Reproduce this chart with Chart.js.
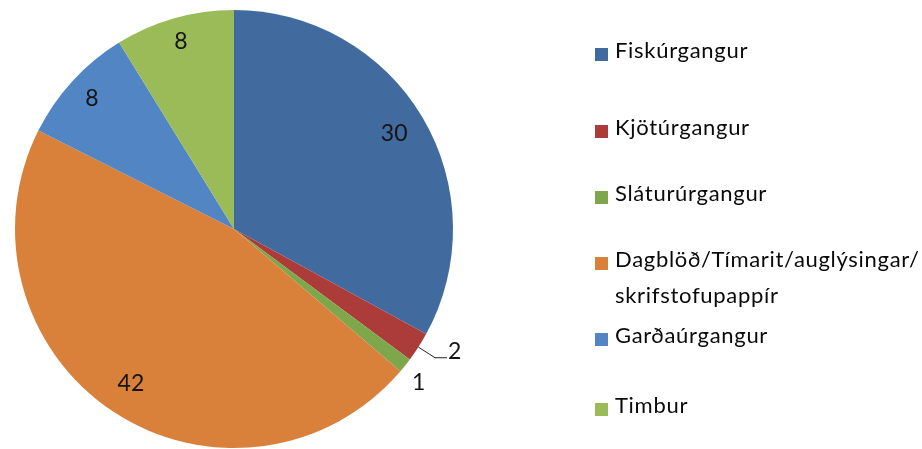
<!DOCTYPE html>
<html>
<head>
<meta charset="utf-8">
<script src="https://cdn.jsdelivr.net/npm/chart.js@4"></script>
<style>
  html, body { margin: 0; padding: 0; background: #fff; }
  #wrap { width: 922px; height: 449px; position: relative; }
</style>
</head>
<body>
<div id="wrap"><canvas id="pie"></canvas></div>
<script>
// --- data ---
const categories = ['Fiskúrgangur', 'Kjötúrgangur', 'Sláturúrgangur',
  'Dagblöð/Tímarit/auglýsingar/ skrifstofupappír', 'Garðaúrgangur', 'Timbur'];
const legendLines = [['Fiskúrgangur'], ['Kjötúrgangur'], ['Sláturúrgangur'],
  ['Dagblöð/Tímarit/auglýsingar/', 'skrifstofupappír'], ['Garðaúrgangur'], ['Timbur']];
const values = [30, 2, 1, 42, 8, 8];
const colors = ['#416b9f', '#ab3c3a', '#7ea74b', '#d9813b', '#5185c4', '#9bbb59'];

const FONT = 'Lato, "Open Sans", sans-serif';

// how each value label is placed: inside at a fraction of the radius,
// or outside ('out' = next to the edge, 'leader' = with a leader line)
const labelMode = ['in', 'leader', 'out', 'in', 'in', 'in'];
const labelRadius = [0.85, 1.09, 1.04, 0.85, 0.88, 0.89];

function polar(arc, ang, f) {
  return [arc.x + Math.cos(ang) * arc.outerRadius * f,
          arc.y + Math.sin(ang) * arc.outerRadius * f];
}

// value labels drawn on top of the slices
const valueLabels = {
  id: 'valueLabels',
  afterDatasetsDraw(chart) {
    const ctx = chart.ctx;
    const meta = chart.getDatasetMeta(0);
    ctx.save();
    ctx.font = '23px ' + FONT;
    ctx.fillStyle = '#141414';
    meta.data.forEach((arc, i) => {
      const mid = (arc.startAngle + arc.endAngle) / 2;
      const [x, y] = polar(arc, mid, labelRadius[i]);
      const txt = String(values[i]);
      if (labelMode[i] === 'leader') {
        const [ex, ey] = polar(arc, mid, 1.0);
        ctx.strokeStyle = '#222';
        ctx.lineWidth = 1;
        ctx.beginPath();
        ctx.moveTo(ex, ey);
        ctx.lineTo(x, y);
        ctx.lineTo(x + 12, y);
        ctx.stroke();
        ctx.textAlign = 'left';
        ctx.textBaseline = 'alphabetic';
        ctx.fillText(txt, x + 13, y + 1);
      } else if (labelMode[i] === 'out') {
        ctx.textAlign = 'left';
        ctx.textBaseline = 'alphabetic';
        ctx.fillText(txt, x, y + 19);
      } else {
        ctx.textAlign = 'center';
        ctx.textBaseline = 'middle';
        ctx.fillText(txt, x, y);
      }
    });
    ctx.restore();
  }
};

// legend on the right, like the spreadsheet original
const legendRows = [50, 127, 193, 259, 335, 405];
const sideLegend = {
  id: 'sideLegend',
  afterDraw(chart) {
    const ctx = chart.ctx;
    ctx.save();
    ctx.font = '22px ' + FONT;
    ctx.letterSpacing = '0.7px';
    ctx.textAlign = 'left';
    ctx.textBaseline = 'alphabetic';
    legendLines.forEach((lines, i) => {
      const y = legendRows[i];
      ctx.fillStyle = colors[i];
      ctx.fillRect(595, y - 2, 13, 13);
      ctx.fillStyle = '#0a0a0a';
      lines.forEach((t, k) => ctx.fillText(t, 615, y + 8 + k * 36));
    });
    ctx.restore();
  }
};

new Chart(document.getElementById('pie'), {
  type: 'pie',
  data: {
    labels: categories,
    datasets: [{
      data: values,
      backgroundColor: colors,
      borderWidth: 0
    }]
  },
  options: {
    responsive: true,
    maintainAspectRatio: false,
    animation: false,
    layout: { padding: { left: 15, right: 469, top: 10, bottom: 1 } },
    plugins: {
      legend: { display: false },
      tooltip: { enabled: false }
    }
  },
  plugins: [valueLabels, sideLegend]
});
</script>
</body>
</html>
